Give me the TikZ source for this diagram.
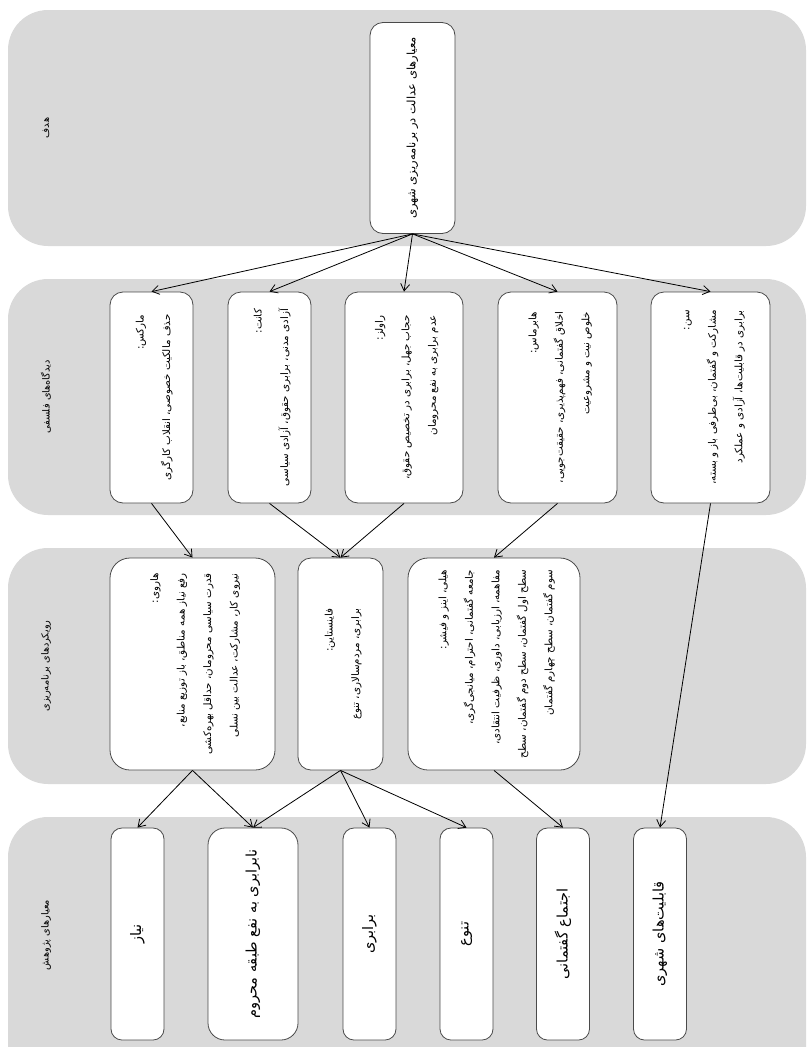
\documentclass[tikz,border=0pt]{standalone}
\usepackage{fontspec}
\usepackage{graphicx}
\usetikzlibrary{arrows.meta}
\TeXXeTstate=1
\newfontfamily\arabicfont[Script=Arabic]{DejaVu Sans}
\newcommand{\fa}[1]{\beginR #1\endR}
\newcommand{\vlines}[1]{\rotatebox{90}{\begin{tabular}{@{}r@{}}#1\end{tabular}}}
\definecolor{bandgray}{HTML}{D9D9D9}
\definecolor{boxline}{HTML}{4A4A4A}
\begin{document}
\begin{tikzpicture}[x=1pt,y=-1pt,
  band/.style={fill=bandgray, rounded corners=40pt},
  bandlabel/.style={inner sep=0pt, font=\arabicfont\fontsize{9.8}{12}\selectfont},
  box/.style={draw=boxline, fill=white, line width=0.8pt, inner sep=0pt, rounded corners=13pt,
    font=\arabicfont\fontsize{10.3}{26.5}\selectfont},
  bigbox/.style={box, rounded corners=20pt},
  crit/.style={box, rounded corners=11pt, font=\arabicfont\fontsize{14.5}{17}\selectfont},
  arr/.style={-{Straight Barb[length=7pt,width=9pt]}, line width=0.8pt, black}
]
\useasboundingbox (0,0) rectangle (808,1047);
% bands
\fill[band] (8,10) rectangle (806,246);
\fill[band] (8,279) rectangle (806,515);
\fill[band] (8,548) rectangle (806,784);
\fill[band] (8,817) rectangle (806,1090);
% band labels
\node[bandlabel] (lab1) at (46,128) {\rotatebox{90}{\fa{هدف}}};
\node[bandlabel] (lab2) at (46,397) {\rotatebox{90}{\fa{دیدگاه^^^^200cهای فلسفی}}};
\node[bandlabel] (lab3) at (46,666) {\rotatebox{90}{\fa{رویکردهای برنامه^^^^200cریزی}}};
\node[bandlabel] (lab4) at (46,935) {\rotatebox{90}{\fa{معیارهای پژوهش}}};
% goal
\node[box, font=\arabicfont\fontsize{11.5}{14}\selectfont, minimum width=85pt, minimum height=211pt] (goal) at (412.5,128)
  {\vlines{\fa{معیارهای عدالت در برنامه^^^^200cریزی شهری}}};
% philosophical views
\node[box, minimum width=83pt, minimum height=211pt] (marx) at (151.5,397.5)
  {\vlines{\fa{مارکس:}\\\fa{حذف مالکیت خصوصی، انقلاب کارگری}}};
\node[box, minimum width=83pt, minimum height=211pt] (kant) at (269.5,397.5)
  {\vlines{\fa{کانت:}\\\fa{آزادی مدنی، برابری حقوق، آزادی سیاسی}}};
\node[box, minimum width=118pt, minimum height=211pt] (rawls) at (404,397.5)
  {\vlines{\fa{راولز:}\\\fa{حجاب جهل، برابری در تخصیص حقوق،}\\\fa{عدم برابری به نفع محرومان}}};
\node[box, minimum width=119pt, minimum height=211pt] (habermas) at (557.5,397.5)
  {\vlines{\fa{هابرماس:}\\\fa{اخلاق گفتمانی، فهم^^^^200cپذیری، حقیقت^^^^200cجویی،}\\\fa{خلوص نیت و مشروعیت}}};
\node[box, minimum width=119pt, minimum height=211pt] (sen) at (710.5,397.5)
  {\vlines{\fa{سن:}\\\fa{مشارکت و گفتمان، بی^^^^200cطرفی باز و بسته،}\\\fa{برابری در قابلیت^^^^200cها، آزادی و عملکرد}}};
% planning approaches
\node[bigbox, minimum width=165pt, minimum height=212pt] (harvey) at (192.5,664)
  {\vlines{\fa{هاروی:}\\\fa{رفع نیاز همه مناطق، باز توزیع منابع،}\\\fa{قدرت سیاسی محرومان، حداقل بهره^^^^200cکشی}\\\fa{نیروی کار، مشارکت، عدالت بین نسلی}}};
\node[box, minimum width=85pt, minimum height=212pt] (fainstein) at (340.5,664)
  {\vlines{\fa{فاینستاین:}\\\fa{برابری، مردم^^^^200cسالاری، تنوع}}};
\node[bigbox, minimum width=172pt, minimum height=212pt] (healey) at (494,664)
  {\vlines{\fa{هیلی، اینز و فیشر:}\\\fa{جامعه گفتمانی، احترام، میانجی^^^^200cگری،}\\\fa{مفاهمه، ارزیابی، داوری، ظرفیت انتقادی،}\\\fa{سطح اول گفتمان، سطح دوم گفتمان، سطح}\\\fa{سوم گفتمان، سطح چهارم گفتمان}}};
% research criteria
\node[crit, minimum width=53pt, minimum height=212pt] (need) at (137.5,934)
  {\rotatebox{90}{\fa{نیاز}}};
\node[crit, rounded corners=17pt, minimum width=90pt, minimum height=212pt] (ineq) at (253,934)
  {\rotatebox{90}{\fa{نابرابری به نفع طبقه محروم}}};
\node[crit, minimum width=53pt, minimum height=212pt] (equal) at (369.5,934)
  {\rotatebox{90}{\fa{برابری}}};
\node[crit, minimum width=53pt, minimum height=212pt] (divers) at (466.5,934)
  {\rotatebox{90}{\fa{تنوع}}};
\node[crit, minimum width=53pt, minimum height=212pt] (discourse) at (563,934)
  {\rotatebox{90}{\fa{اجتماع گفتمانی}}};
\node[crit, minimum width=53pt, minimum height=212pt] (capab) at (660,934)
  {\rotatebox{90}{\fa{قابلیت^^^^200cهای شهری}}};
% connectors
\foreach \t in {marx,kant,rawls,habermas,sen} \draw[arr] (goal.south) -- (\t.north);
\draw[arr] (marx.south) -- (harvey.north);
\draw[arr] (kant.south) -- (fainstein.north);
\draw[arr] (rawls.south) -- (fainstein.north);
\draw[arr] (habermas.south) -- (healey.north);
\draw[arr] (sen.south) -- (capab.north);
\draw[arr] (harvey.south) -- (need.north);
\draw[arr] (harvey.south) -- (ineq.north);
\draw[arr] (fainstein.south) -- (ineq.north);
\draw[arr] (fainstein.south) -- (equal.north);
\draw[arr] (fainstein.south) -- (divers.north);
\draw[arr] (healey.south) -- (discourse.north);
\end{tikzpicture}
\end{document}
